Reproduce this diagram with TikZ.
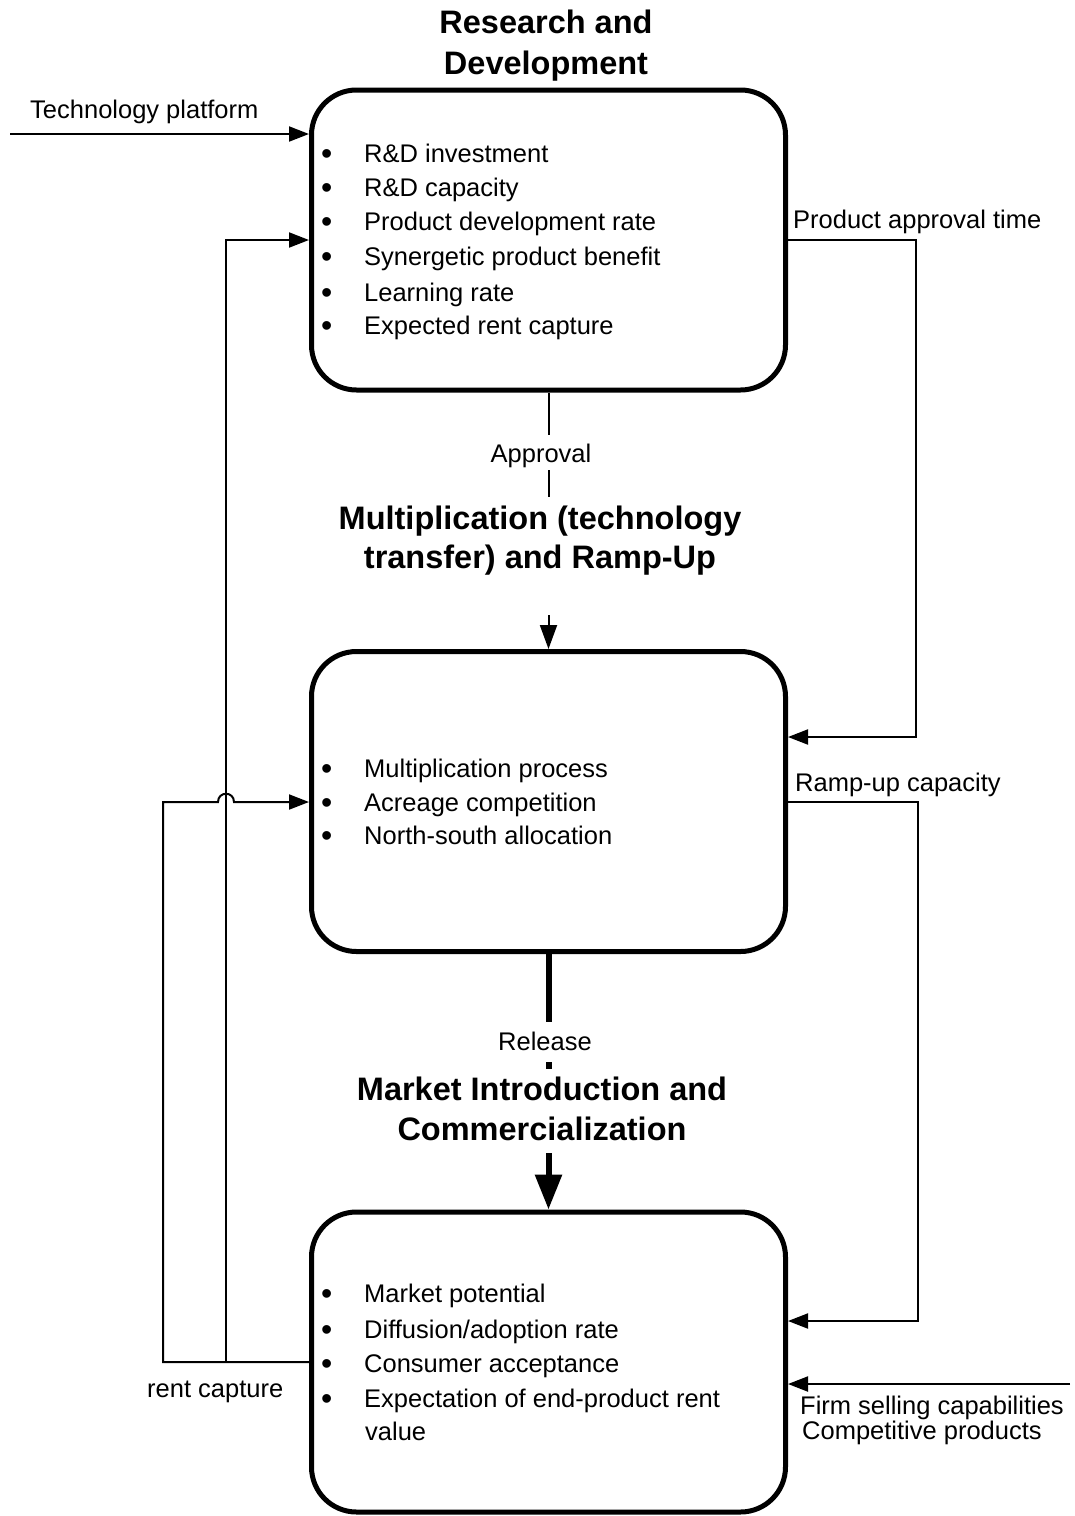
\documentclass[tikz,border=0pt]{standalone}
\usepackage{fontspec}
\setmainfont{Liberation Sans}
\usetikzlibrary{arrows.meta}
\begin{document}
\begin{tikzpicture}[x=1pt,y=-1pt,
  box/.style={draw, line width=5pt, rounded corners=45pt, minimum width=474pt, minimum height=300pt, inner sep=0pt},
  txt/.style={font=\fontsize{25.5}{28}\selectfont, inner sep=0pt, anchor=base west},
  lbl/.style={font=\fontsize{25.5}{28}\selectfont, inner sep=0pt, anchor=base},
  ttl/.style={font=\fontsize{32.5}{38}\selectfont\bfseries, inner sep=0pt, anchor=base},
  thin/.style={line width=2pt},
  arr/.style={thin, -{Triangle[length=20pt,width=15pt]}},
  bigarr/.style={line width=6pt, -{Triangle[length=35pt,width=26pt]}}
]
\useasboundingbox (0,0) rectangle (1075,1516);
\fill[white] (0,0) rectangle (1075,1516);

% boxes
\node[box] (box1) at (548.5,240) {};
\node[box] (box2) at (548.5,801.5) {};
\node[box] (box3) at (548.5,1362) {};

% titles
\node[ttl] (t1a) at (546,33.6) {Research and};
\node[ttl] (t1b) at (546,74.6) {Development};
\node[ttl] (t2a) at (540,529.6) {Multiplication (technology};
\node[ttl] (t2b) at (540,568.6) {transfer) and Ramp-Up};
\node[ttl] (t3a) at (542,1100.6) {Market Introduction and};
\node[ttl] (t3b) at (542,1140.6) {Commercialization};

% bullets
\newcommand{\bul}{\makebox[43pt][l]{\raisebox{-2pt}{\fontsize{32}{32}\selectfont •}}}
\node[txt] (b1a) at (321,162.1) {\bul R\&D investment};
\node[txt] (b1b) at (321,196.1) {\bul R\&D capacity};
\node[txt] (b1c) at (321,230.1) {\bul Product development rate};
\node[txt] (b1d) at (321,265.1) {\bul Synergetic product benefit};
\node[txt] (b1e) at (321,301.1) {\bul Learning rate};
\node[txt] (b1f) at (321,334.1) {\bul Expected rent capture};
\node[txt] (b2a) at (321,777.1) {\bul Multiplication process};
\node[txt] (b2b) at (321,811.1) {\bul Acreage competition};
\node[txt] (b2c) at (321,844.1) {\bul North-south allocation};
\node[txt] (b3a) at (321,1302.1) {\bul Market potential};
\node[txt] (b3b) at (321,1338.1) {\bul Diffusion/adoption rate};
\node[txt] (b3c) at (321,1372.1) {\bul Consumer acceptance};
\node[txt] (b3d) at (321,1407.1) {\bul Expectation of end-product rent};
\node[txt] (b3e) at (365,1440.1) {value};

% labels
\node[txt] (ltp) at (30,118.1) {Technology platform};
\node[txt] (lpa) at (793,228.1) {Product approval time};
\node[txt] (lru) at (795,791.1) {Ramp-up capacity};
\node[txt] (lrc) at (147,1397.1) {rent capture};
\node[txt] (lfs) at (800,1414.1) {Firm selling capabilities};
\node[txt] (lcp) at (802,1439.1) {Competitive products};
\node[lbl] (lap) at (541,462.1) {Approval};
\node[lbl] (lre) at (545,1050.1) {Release};

% coordinates
\coordinate (tp) at (10,134);
\coordinate (pa1) at (916,240);
\coordinate (pa2) at (916,737);
\coordinate (ru1) at (918,801.5);
\coordinate (ru2) at (918,1321);
\coordinate (fs) at (1070,1384);
\coordinate (rc1) at (163,1362);
\coordinate (rc2) at (163,802);
\coordinate (h1) at (218,802);
\coordinate (h2) at (234,802);
\coordinate (v1) at (226,1362);
\coordinate (v2) at (226,240);
\coordinate (ap1) at (548.5,435);
\coordinate (ap2) at (548.5,470);
\coordinate (ap3) at (548.5,497);
\coordinate (ap4) at (548.5,615);
\coordinate (re1) at (548.5,1022);
\coordinate (re2) at (548.5,1062);
\coordinate (re3) at (548.5,1069);
\coordinate (re4) at (548.5,1153);

% connectors
\draw[arr] (tp) -- (box1.west |- tp);
\draw[arr] (box1.east) -- (pa1) -- (pa2) -- (box2.east |- pa2);
\draw[arr] (box2.east) -- (ru1) -- (ru2) -- (box3.east |- ru2);
\draw[arr] (fs) -- (box3.east |- fs);
\draw[arr] (box3.west) -- (rc1) -- (rc2) -- (h1) .. controls (218,791) and (234,791) .. (h2) -- (box2.west |- h2);
\draw[arr] (v1) -- (v2) -- (box1.west |- v2);
\draw[thin] (box1.south) -- (ap1);
\draw[thin] (ap2) -- (ap3);
\draw[thin, -{Triangle[length=24pt,width=17pt]}] (ap4) -- (box2.north);
\draw[line width=6pt] (box2.south) -- (re1);
\draw[line width=6pt] (re2) -- (re3);
\draw[bigarr] (re4) -- (box3.north);
\end{tikzpicture}
\end{document}
